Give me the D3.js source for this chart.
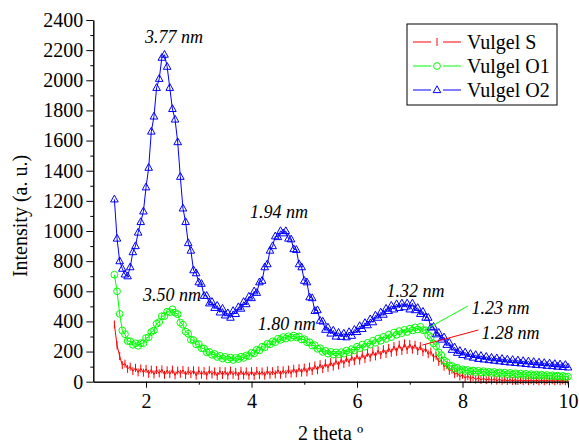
<!DOCTYPE html>
<html>
<head>
  <meta charset="utf-8">
  <title>XRD Vulgel</title>
  <style>
    body { margin: 0; background: #fff; }
    svg text { font-family: "Liberation Serif", "Times New Roman", serif; }
  </style>
</head>
<body>
  <svg width="579" height="444"></svg>
  <script src="https://d3js.org/d3.v7.min.js"></script>
  <script>
  // scan grid: 2 theta from 1.40 with step 0.05
  var thetaStart = 1.40, thetaStep = 0.05;

  var vulgelS = [
    380, 240, 170, 110, 120, 85, 100, 70, 92, 62, 88, 60,
    85, 52, 80, 48, 78, 55, 82, 45, 76, 50, 80, 42, 74, 52, 78, 44, 72, 50, 76, 40,
    74, 46, 70, 40, 76, 48, 68, 38, 72, 44, 70, 40, 74, 46, 66, 38, 72, 42, 68, 40,
    70, 38, 72, 44, 68, 40, 74, 46, 70, 48, 78, 46, 76, 52, 80, 54, 86, 56, 90, 60,
    94, 62, 100, 70, 108, 76, 116, 84, 122, 92, 130, 100, 140, 108, 148, 118, 158, 126, 166, 136,
    176, 140, 184, 150, 192, 160, 200, 168, 208, 176, 216, 184, 224, 192, 236, 198, 246, 204, 254, 210,
    250, 212, 246, 204, 236, 196, 222, 182, 200, 160, 172, 132, 140, 100, 110, 72, 80, 50, 58, 34,
    46, 24, 38, 18, 32, 14, 26, 12, 22, 10, 20, 8, 18, 7, 16, 6, 15, 5, 14, 5,
    13, 5, 12, 4, 12, 4, 11, 4, 11, 3, 10, 3, 10, 3, 10, 3, 9, 3, 9, 3,
    8
  ];

  var vulgelO1 = [
    710, 600, 450, 340, 315, 270, 268, 245, 255, 238, 256, 255,
    290, 295, 330, 340, 385, 395, 435, 435, 465, 462, 480, 458, 448, 392, 378, 332, 318, 278, 276, 248,
    250, 222, 220, 195, 198, 178, 184, 164, 172, 154, 165, 148, 160, 144, 158, 150, 166, 158, 174, 170,
    192, 188, 212, 208, 232, 228, 252, 248, 268, 262, 285, 278, 296, 286, 302, 292, 306, 294, 300, 280,
    282, 262, 262, 240, 242, 218, 222, 198, 205, 186, 198, 180, 194, 182, 196, 186, 206, 196, 216, 208,
    232, 222, 246, 232, 258, 246, 272, 258, 286, 272, 298, 284, 312, 296, 326, 312, 336, 322, 344, 330,
    352, 340, 360, 346, 364, 342, 342, 308, 296, 254, 236, 194, 176, 140, 130, 105, 104, 88, 92, 78,
    82, 72, 78, 68, 74, 64, 72, 62, 70, 60, 66, 58, 64, 55, 62, 52, 60, 50, 58, 48,
    56, 46, 54, 44, 52, 42, 50, 41, 48, 40, 46, 38, 44, 37, 42, 35, 40, 34, 38, 32,
    34
  ];

  var vulgelO2 = [
    1210, 950, 800, 750, 712, 700, 760, 860, 900, 990, 1060, 1130,
    1290, 1420, 1660, 1760, 1950, 2010, 2150, 2170, 2090, 1950, 1810, 1740, 1590, 1360, 1150, 1060, 920, 870, 740, 720,
    660, 650, 570, 570, 520, 530, 490, 505, 460, 485, 440, 455, 425, 470, 450, 495, 485, 530, 515, 565,
    555, 600, 590, 660, 670, 760, 780, 870, 900, 965, 960, 1000, 985, 1000, 950, 945, 880, 875, 780, 760,
    670, 660, 560, 555, 470, 475, 405, 400, 345, 360, 320, 340, 300, 325, 298, 320, 295, 330, 305, 345,
    330, 370, 350, 390, 375, 415, 395, 440, 425, 460, 445, 485, 470, 505, 480, 515, 490, 520, 495, 520,
    480, 520, 475, 490, 450, 465, 425, 425, 360, 365, 315, 325, 280, 295, 245, 260, 212, 228, 192, 205,
    178, 195, 168, 185, 160, 178, 152, 172, 148, 166, 144, 160, 140, 156, 136, 152, 132, 148, 128, 145,
    125, 142, 122, 138, 118, 135, 115, 132, 112, 128, 110, 125, 106, 122, 104, 118, 100, 115, 98, 112,
    95
  ];

  var seriesNames = ["Vulgel S", "Vulgel O1", "Vulgel O2"];
  var seriesColors = ["#ff0000", "#00ff00", "#0000ff"];
  var seriesMarkers = ["bar", "circle", "triangle"];

  var xTicks = [2, 4, 6, 8, 10];
  var yTicks = [0, 200, 400, 600, 800, 1000, 1200, 1400, 1600, 1800, 2000, 2200, 2400];

  // peak labels: [text, x, y] in data units
  var peakLabels = [
    ["3.77 nm", 1.98, 2248],
    ["1.94 nm", 3.97, 1086],
    ["3.50 nm", 1.94, 535],
    ["1.80 nm", 4.12, 343],
    ["1.32 nm", 6.56, 562],
    ["1.23 nm", 8.17, 449],
    ["1.28 nm", 8.36, 283]
  ];
  // leader lines: [x1, y1, x2, y2, colour index]
  var leaders = [
    [8.10, 502, 7.28, 343, 1],
    [8.30, 343, 7.24, 243, 0]
  ];

  var svg = d3.select("svg");
  var plotL = 93.3, plotR = 568, plotT = 20, plotB = 381.7;
  var serif = "Liberation Serif";

  var x = d3.scaleLinear().domain([1, 10]).range([plotL, plotR]);
  var y = d3.scaleLinear().domain([0, 2400]).range([plotB, plotT]);

  function toPoints(vals) {
    return vals.map(function(v, i) { return { t: thetaStart + i * thetaStep, v: v }; });
  }
  var allSeries = [vulgelS, vulgelO1, vulgelO2].map(toPoints);

  var line = d3.line().x(function(d) { return x(d.t); }).y(function(d) { return y(d.v); });

  function drawMarker(g, type, color) {
    if (type === "bar") {
      g.append("line").attr("x1", 0).attr("x2", 0).attr("y1", -4).attr("y2", 4)
        .attr("stroke", color).attr("stroke-width", 1);
    } else if (type === "circle") {
      g.append("circle").attr("r", 3.4).attr("fill", "none")
        .attr("stroke", color).attr("stroke-width", 1);
    } else {
      g.append("path").attr("d", "M0,-4.2L3.8,2.6L-3.8,2.6Z").attr("fill", "none")
        .attr("stroke", color).attr("stroke-width", 1);
    }
  }

  allSeries.forEach(function(pts, si) {
    var color = seriesColors[si];
    svg.append("path").datum(pts)
      .attr("d", line)
      .attr("fill", "none")
      .attr("stroke", color)
      .attr("stroke-width", 1);
    svg.append("g").selectAll("g")
      .data(pts)
      .enter()
      .append("g")
      .attr("transform", function(d) { return "translate(" + x(d.t) + "," + y(d.v) + ")"; })
      .each(function() { drawMarker(d3.select(this), seriesMarkers[si], color); });
  });

  // axes
  svg.append("g").attr("transform", "translate(0," + plotB + ")")
    .call(d3.axisBottom(x).tickValues(xTicks).tickFormat(d3.format("d"))
      .tickSize(6).tickSizeOuter(0).tickPadding(6));
  svg.append("g").attr("transform", "translate(0," + plotB + ")")
    .call(d3.axisBottom(x).tickValues([3, 5, 7, 9]).tickSize(3).tickFormat("").tickSizeOuter(0));
  svg.append("g").attr("transform", "translate(" + plotL + ",0)")
    .call(d3.axisLeft(y).tickValues(yTicks).tickFormat(d3.format("d"))
      .tickSize(7).tickSizeOuter(0).tickPadding(3));
  svg.append("g").attr("transform", "translate(" + plotL + ",0)")
    .call(d3.axisLeft(y).tickValues(d3.range(100, 2400, 200)).tickSize(3).tickFormat("").tickSizeOuter(0));

  svg.selectAll("g").attr("font-family", serif);
  svg.selectAll(".tick text").attr("font-size", 20).attr("fill", "#000");
  svg.selectAll(".domain, .tick line").attr("stroke", "#000");

  svg.append("text").attr("x", x(5.5)).attr("y", 440)
    .attr("text-anchor", "middle").attr("font-size", 20).attr("font-family", serif)
    .text("2 theta º");
  svg.append("text").attr("transform", "translate(27,216) rotate(-90)")
    .attr("text-anchor", "middle").attr("font-size", 20).attr("font-family", serif)
    .text("Intensity (a. u.)");

  // peak labels
  svg.selectAll(".peak").data(peakLabels).enter().append("text")
    .attr("class", "peak")
    .attr("x", function(d) { return x(d[1]); })
    .attr("y", function(d) { return y(d[2]); })
    .attr("font-size", 18).attr("font-style", "italic").attr("font-family", serif)
    .text(function(d) { return d[0]; });
  svg.selectAll(".leader").data(leaders).enter().append("line")
    .attr("x1", function(d) { return x(d[0]); }).attr("y1", function(d) { return y(d[1]); })
    .attr("x2", function(d) { return x(d[2]); }).attr("y2", function(d) { return y(d[3]); })
    .attr("stroke", function(d) { return seriesColors[d[4]]; }).attr("stroke-width", 1);

  // legend
  var legend = svg.append("g");
  legend.append("rect").attr("x", 407).attr("y", 24).attr("width", 150).attr("height", 81)
    .attr("fill", "#fff").attr("stroke", "#000").attr("stroke-width", 1);
  seriesNames.forEach(function(name, i) {
    var ly = 42 + i * 24;
    legend.append("line").attr("x1", 413).attr("x2", 461).attr("y1", ly).attr("y2", ly)
      .attr("stroke", seriesColors[i]).attr("stroke-width", 1);
    var mg = legend.append("g").attr("transform", "translate(437," + ly + ")");
    mg.append("rect").attr("x", -6).attr("y", -6).attr("width", 12).attr("height", 12).attr("fill", "#fff");
    drawMarker(mg, seriesMarkers[i], seriesColors[i]);
    legend.append("text").attr("x", 467).attr("y", ly + 7).attr("font-size", 20)
      .attr("font-family", serif).text(name);
  });
  </script>
</body>
</html>
